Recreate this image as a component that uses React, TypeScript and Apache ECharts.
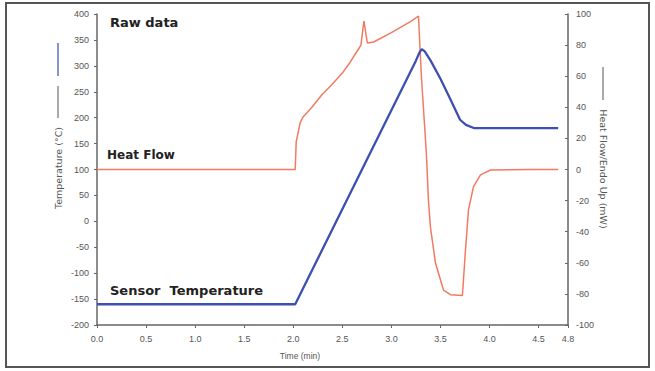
import React, { useEffect, useRef } from "react";
import * as echarts from "echarts";

const tempTime = [0, 2.0, 2.02, 3.25, 3.29, 3.31, 3.34, 3.4, 3.5, 3.6, 3.7, 3.76, 3.84, 4.0, 4.7];
const tempValues = [-160, -160, -160, 310, 327, 332, 328, 310, 275, 236, 196, 186, 180, 180, 180];

const heatTime = [
  0, 2.0, 2.02, 2.03, 2.07, 2.1, 2.19, 2.29, 2.39, 2.5, 2.58, 2.66, 2.69, 2.72, 2.755, 2.82,
  3.0, 3.19, 3.276, 3.306, 3.357, 3.378, 3.398, 3.449, 3.531, 3.602, 3.724, 3.755, 3.786,
  3.837, 3.908, 4.01, 4.42, 4.7,
];
const heatValues = [
  0, 0, 0, 17.7, 30, 33.8, 40, 47.9, 54.3, 62, 69, 77, 80, 95.5, 81.4, 82,
  88, 95, 98.7, 60, 10, -20, -37, -60, -77.5, -80.5, -81, -52, -26,
  -11, -3.5, -0.3, 0, 0,
];

const xTicksMax = 4.8;
const leftAxisRange = [-200, 400];
const rightAxisRange = [-100, 100];

export default function App() {
  const ref = useRef<HTMLDivElement>(null);
  useEffect(() => {
    if (!ref.current) return;
    const chart = echarts.init(ref.current, null, { renderer: "svg" });
    const axisFont = { fontFamily: "Liberation Sans", fontSize: 9, color: "#555" };
    const axisLine = { show: true, onZero: false, lineStyle: { color: "#666", width: 1.5 } };
    const bigFont = "bold 13px 'DejaVu Sans'";
    const titleFont = "9.5px 'DejaVu Sans'";
    chart.setOption({
      animation: false,
      backgroundColor: "#fff",
      grid: { left: 97, right: 87, top: 14, bottom: 46 },
      xAxis: {
        type: "value",
        min: 0,
        max: xTicksMax,
        interval: 0.5,
        axisLine,
        axisTick: { show: true, length: 3, inside: false, lineStyle: { color: "#666" } },
        splitLine: { show: false },
        axisLabel: { ...axisFont, margin: 9, formatter: (v: number) => v.toFixed(1) },
      },
      yAxis: [
        {
          type: "value",
          min: leftAxisRange[0],
          max: leftAxisRange[1],
          interval: 50,
          axisLine,
          axisTick: { show: true, length: 3, lineStyle: { color: "#666" } },
          splitLine: { show: false },
          axisLabel: { ...axisFont, margin: 8 },
        },
        {
          type: "value",
          position: "right",
          min: rightAxisRange[0],
          max: rightAxisRange[1],
          interval: 20,
          axisLine,
          axisTick: { show: true, length: 3, inside: true, lineStyle: { color: "#666" } },
          splitLine: { show: false },
          axisLabel: { ...axisFont, margin: 8 },
        },
      ],
      series: [
        {
          name: "Heat Flow",
          type: "line",
          yAxisIndex: 1,
          showSymbol: false,
          data: heatTime.map((t, i) => [t, heatValues[i]]),
          lineStyle: { color: "#f27a63", width: 1.5 },
          itemStyle: { color: "#f27a63" },
          z: 2,
        },
        {
          name: "Sensor Temperature",
          type: "line",
          yAxisIndex: 0,
          showSymbol: false,
          data: tempTime.map((t, i) => [t, tempValues[i]]),
          lineStyle: { color: "#3d4fb0", width: 2.3 },
          itemStyle: { color: "#3d4fb0" },
          z: 3,
        },
      ],
      graphic: [
        {
          type: "rect",
          shape: { x: 6, y: 3, width: 643, height: 364 },
          style: { fill: "none", stroke: "#555", lineWidth: 2 },
          silent: true,
        },
        {
          type: "text",
          x: 110,
          y: 22,
          style: { text: "Raw data", font: bigFont, fill: "#222", textVerticalAlign: "middle" },
        },
        {
          type: "text",
          x: 107,
          y: 155,
          style: { text: "Heat Flow", font: "bold 12px 'DejaVu Sans'", fill: "#222", textVerticalAlign: "middle" },
        },
        {
          type: "text",
          x: 110,
          y: 290,
          style: { text: "Sensor  Temperature", font: bigFont, fill: "#222", textVerticalAlign: "middle" },
        },
        {
          type: "text",
          x: 300,
          y: 356,
          style: { text: "Time (min)", font: "8.5px 'Liberation Sans'", fill: "#555", textAlign: "center", textVerticalAlign: "middle" },
        },
        {
          type: "text",
          x: 58,
          y: 168,
          rotation: Math.PI / 2,
          style: { text: "Temperature (°C)", font: titleFont, fill: "#555", textAlign: "center", textVerticalAlign: "middle" },
        },
        { type: "line", shape: { x1: 58, y1: 86, x2: 58, y2: 118 }, style: { stroke: "#555", lineWidth: 1 } },
        { type: "line", shape: { x1: 58, y1: 43, x2: 58, y2: 76 }, style: { stroke: "#6070c0", lineWidth: 1.5 } },
        {
          type: "text",
          x: 603,
          y: 169,
          rotation: -Math.PI / 2,
          style: { text: "Heat Flow/Endo Up (mW)", font: titleFont, fill: "#555", textAlign: "center", textVerticalAlign: "middle" },
        },
        { type: "line", shape: { x1: 603, y1: 67, x2: 603, y2: 100 }, style: { stroke: "#555", lineWidth: 1 } },
      ],
    });
    return () => chart.dispose();
  }, []);
  return (
    <div
      ref={ref}
      style={{ position: "fixed", left: 0, top: 0, width: 655, height: 371 }}
    />
  );
}
